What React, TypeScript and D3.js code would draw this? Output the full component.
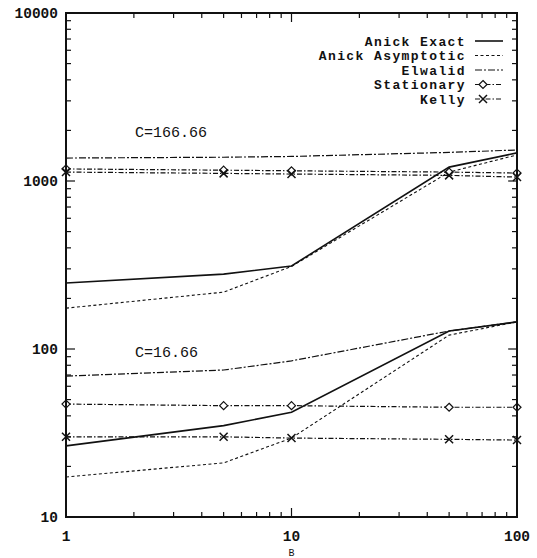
import React from 'react'
import * as d3 from 'd3'

// B values (x axis)
const bValues = [1, 5, 10, 50, 100]

// C = 166.66
const exactHigh = [247, 279, 312, 1210, 1470]
const asympHigh = [175, 218, 310, 1130, 1430]
const elwalidHigh = [1370, 1385, 1400, 1480, 1530]
const stationaryHigh = [1180, 1160, 1150, 1130, 1115]
const kellyHigh = [1130, 1110, 1100, 1080, 1055]

// C = 16.66
const exactLow = [26.5, 35, 42, 128, 145]
const asympLow = [17.3, 21, 29.5, 121, 145]
const elwalidLow = [69, 75, 85, 128, 145]
const stationaryLow = [47, 46, 46, 45, 45]
const kellyLow = [30, 30, 29.5, 29, 28.7]

const xTickLabels = [1, 10, 100]
const yTickLabels = [10, 100, 1000, 10000]

const legendNames = ['Anick Exact', 'Anick Asymptotic', 'Elwalid', 'Stationary', 'Kelly']

const FONT = '"Liberation Mono", "DejaVu Sans Mono", monospace'

const styles: Record<string, { dash: string; width: number }> = {
  exact: { dash: 'none', width: 1.6 },
  asymp: { dash: '3,2.5', width: 1.1 },
  elwalid: { dash: '7,2,2,2', width: 1.2 },
  stationary: { dash: '5,2,1.5,2', width: 1.2 },
  kelly: { dash: '5,2,1.5,2', width: 1.2 },
}

export default function App() {
  const left = 66, right = 517, top = 13, bottom = 517
  const x = d3.scaleLog().domain([1, 100]).range([left, right])
  const y = d3.scaleLog().domain([10, 10000]).range([bottom, top])

  const line = (vals: number[]) =>
    d3.line<number>().x((_, i) => x(bValues[i])).y(d => y(d))(vals) || ''

  const series = [
    { key: 'exact', vals: [exactHigh, exactLow] },
    { key: 'asymp', vals: [asympHigh, asympLow] },
    { key: 'elwalid', vals: [elwalidHigh, elwalidLow] },
    { key: 'stationary', vals: [stationaryHigh, stationaryLow] },
    { key: 'kelly', vals: [kellyHigh, kellyLow] },
  ]

  // minor + major log ticks
  const xTicks: { v: number; major: boolean }[] = []
  for (let d = 1; d < 100; d *= 10)
    for (let m = 1; m < 10; m++) xTicks.push({ v: d * m, major: m === 1 })
  xTicks.push({ v: 100, major: true })
  const yTicks: { v: number; major: boolean }[] = []
  for (let d = 10; d < 10000; d *= 10)
    for (let m = 1; m < 10; m++) yTicks.push({ v: d * m, major: m === 1 })
  yTicks.push({ v: 10000, major: true })

  const diamond = (cx: number, cy: number, k: string) => (
    <path key={k} d={`M${cx},${cy - 4}L${cx + 4},${cy}L${cx},${cy + 4}L${cx - 4},${cy}Z`}
      fill="white" stroke="#111" strokeWidth={1.2} />
  )
  const cross = (cx: number, cy: number, k: string) => (
    <path key={k} d={`M${cx - 4},${cy - 4}L${cx + 4},${cy + 4}M${cx - 4},${cy + 4}L${cx + 4},${cy - 4}`}
      stroke="#111" strokeWidth={1.5} />
  )

  const legendY = [41, 55.5, 70, 84.5, 99]

  return (
    <svg width={537} height={558} style={{ position: 'absolute', left: 0, top: 0, background: 'white' }}>
      <rect x={0} y={0} width={537} height={558} fill="white" />
      {/* data lines */}
      {series.map(s =>
        s.vals.map((v, j) => (
          <path key={s.key + j} d={line(v)} fill="none" stroke="#111"
            strokeWidth={styles[s.key].width} strokeDasharray={styles[s.key].dash} />
        ))
      )}
      {/* markers */}
      {[stationaryHigh, stationaryLow].map((vals, j) =>
        vals.map((v, i) => diamond(x(bValues[i]), y(v), 'd' + j + i)))}
      {[kellyHigh, kellyLow].map((vals, j) =>
        vals.map((v, i) => cross(x(bValues[i]), y(v), 'k' + j + i)))}

      {/* frame */}
      <rect x={left} y={top} width={right - left} height={bottom - top} fill="none" stroke="#111" strokeWidth={2} />
      {xTicks.map((t, i) => {
        const len = t.major ? 9 : 5
        return (
          <g key={'xt' + i} stroke="#111" strokeWidth={1.2}>
            <line x1={x(t.v)} x2={x(t.v)} y1={bottom} y2={bottom - len} />
            <line x1={x(t.v)} x2={x(t.v)} y1={top} y2={top + len} />
          </g>
        )
      })}
      {yTicks.map((t, i) => {
        const len = t.major ? 9 : 5
        return (
          <g key={'yt' + i} stroke="#111" strokeWidth={1.2}>
            <line x1={left} x2={left + len} y1={y(t.v)} y2={y(t.v)} />
            <line x1={right} x2={right - len} y1={y(t.v)} y2={y(t.v)} />
          </g>
        )
      })}

      {/* tick labels */}
      {yTickLabels.map(v => (
        <text key={'yl' + v} x={58} y={y(v)} dy="0.35em" textAnchor="end"
          fontFamily={FONT} fontSize={14.5} fontWeight="bold" fill="#111">{v}</text>
      ))}
      {xTickLabels.map(v => (
        <text key={'xl' + v} x={x(v)} y={536} dy="0.35em" textAnchor="middle"
          fontFamily={FONT} fontSize={14.5} fontWeight="bold" fill="#111">{v}</text>
      ))}
      <text x={x(10)} y={552} dy="0.35em" textAnchor="middle" fontFamily={FONT} fontSize={10} fill="#111">B</text>

      {/* annotations */}
      <text x={135} y={132} dy="0.35em" fontFamily={FONT} fontSize={15} fill="#111">C=166.66</text>
      <text x={135} y={352} dy="0.35em" fontFamily={FONT} fontSize={15} fill="#111">C=16.66</text>

      {/* legend */}
      {legendNames.map((name, i) => {
        const key = series[i].key
        const ly = legendY[i]
        return (
          <g key={'lg' + i}>
            <text x={466} y={ly} dy="0.35em" textAnchor="end" fontFamily={FONT}
              fontSize={13} letterSpacing={1.4} fontWeight="bold" fill="#111">{name}</text>
            <line x1={475} x2={503} y1={ly} y2={ly} stroke="#111"
              strokeWidth={styles[key].width} strokeDasharray={styles[key].dash} />
            {key === 'stationary' && diamond(483, ly, 'ld')}
            {key === 'kelly' && cross(483, ly, 'lk')}
          </g>
        )
      })}
    </svg>
  )
}
